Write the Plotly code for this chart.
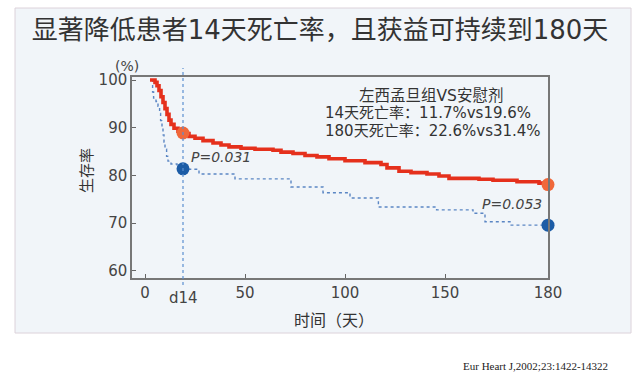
import plotly.graph_objects as go

# ---- data (x in the chart's own axis units; "180" label sits at the right edge) ----
red_days = [2.5, 5.0, 6.0, 7.0, 8.0, 9.0, 10.0, 11.0, 12.0, 13.0, 14.5, 16.5, 19, 22, 25, 29, 34, 38, 42,
            48, 55, 64, 68, 74, 80, 86, 92, 100, 110, 118, 121, 127, 133, 141, 147, 152, 167, 174, 186, 197, 201.5]
red_surv = [100, 99.5, 98.8, 97.8, 96.5, 95.3, 94.0, 92.8, 91.6, 90.7, 89.9, 89.3, 88.8, 88.2, 87.8, 87.3, 86.8,
            86.4, 86.0, 85.7, 85.5, 85.3, 84.9, 84.6, 84.2, 83.9, 83.5, 83.1, 82.7, 82.3, 81.6, 80.9, 80.6, 80.3,
            79.9, 79.4, 79.2, 79.0, 78.7, 78.4, 78.3]

blue_days = [3.3, 3.8, 4.3, 5.5, 6.5, 7.3, 7.8, 8.5, 9.0, 9.5, 10.0, 10.8, 11.5, 13, 16, 20, 27, 45, 73, 89,
             102.5, 116.7, 145.8, 164, 170, 182.5, 201.5]
blue_surv = [100, 97.5, 96.2, 95.5, 94.5, 93.0, 91.5, 90.2, 88.5, 87.0, 85.5, 84.0, 83.0, 82.4, 81.8, 81.3,
             80.3, 79.3, 77.6, 76.4, 75.3, 73.4, 72.8, 72.1, 70.3, 69.6, 69.6]

marker_days = [19, 201.5]
red_marker_surv = [88.9, 78.1]
blue_marker_surv = [81.4, 69.6]

d14_pos = 19
x_tick_vals = [0, 50, 100, 150, 201.5]
x_tick_text = ["0", "50", "100", "150", "180"]
y_tick_vals = [60, 70, 80, 90, 100]

title_text = "显著降低患者14天死亡率，且获益可持续到180天"
box_lines = ["左西孟旦组VS安慰剂", "14天死亡率：11.7%vs19.6%", "180天死亡率：22.6%vs31.4%"]

FONT = "DejaVu Sans, Noto Sans CJK SC, sans-serif"
CJK = "Noto Sans CJK SC, DejaVu Sans, sans-serif"

fig = go.Figure()
fig.add_trace(go.Scatter(x=blue_days, y=blue_surv, mode="lines", line=dict(shape="hv", color="#5b86c4", width=1.4, dash="dot"),
                         hoverinfo="skip", showlegend=False))
fig.add_trace(go.Scatter(x=red_days, y=red_surv, mode="lines", line=dict(shape="hv", color="#e5301c", width=3.6),
                         hoverinfo="skip", showlegend=False))
fig.add_trace(go.Scatter(x=marker_days, y=red_marker_surv, mode="markers", marker=dict(size=13, color="#f0683a"),
                         cliponaxis=False, showlegend=False))
fig.add_trace(go.Scatter(x=marker_days, y=blue_marker_surv, mode="markers", marker=dict(size=13, color="#1c5ca6"),
                         cliponaxis=False, showlegend=False))

shapes = [
    dict(type="rect", xref="paper", yref="paper", x0=(15 - 132) / 416, x1=(631 - 132) / 416,
         y0=(278 - 333) / 201, y1=(278 - 8) / 201, fillcolor="#f1f5f9", line=dict(color="#dcd2da", width=1),
         layer="below"),
    dict(type="line", xref="x", yref="paper", x0=d14_pos, x1=d14_pos, y0=-0.035, y1=1.045,
         line=dict(color="#5b8fd0", width=1.2, dash="dot")),
]

annotations = [
    dict(text="d14", x=d14_pos, xref="x", y=-0.1, yref="paper", showarrow=False,
         font=dict(family=FONT, size=15, color="#444"), yanchor="middle"),
    dict(text="(%)", x=(127 - 132) / 416, xref="paper", y=(278 - 66) / 201, yref="paper", showarrow=False,
         font=dict(family=FONT, size=14, color="#444"), xanchor="center", yanchor="middle"),
    dict(text="生存率", textangle=-90, x=(85 - 132) / 416, xref="paper", y=(278 - 171) / 201, yref="paper",
         showarrow=False, font=dict(family=CJK, size=15, color="#333"), xanchor="center", yanchor="middle"),
    dict(text="时间（天）", x=(334 - 132) / 416, xref="paper", y=(278 - 319) / 201, yref="paper", showarrow=False,
         font=dict(family=CJK, size=16, color="#333"), xanchor="center", yanchor="middle"),
    dict(text=box_lines[0], x=(431 - 132) / 416, xref="paper", y=(278 - 95) / 201, yref="paper", showarrow=False,
         font=dict(family=FONT, size=15.5, color="#333"), xanchor="center", yanchor="middle"),
    dict(text=box_lines[1], x=(323 - 132) / 416, xref="paper", y=(278 - 113) / 201, yref="paper", showarrow=False,
         font=dict(family=FONT, size=15, color="#333"), xanchor="left", yanchor="middle"),
    dict(text=box_lines[2], x=(323 - 132) / 416, xref="paper", y=(278 - 131) / 201, yref="paper", showarrow=False,
         font=dict(family=FONT, size=15, color="#333"), xanchor="left", yanchor="middle"),
    dict(text="<i>P=0.031</i>", x=(189 - 132) / 416, xref="paper", y=(278 - 157) / 201, yref="paper",
         showarrow=False, font=dict(family=FONT, size=14, color="#444"), xanchor="left", yanchor="middle"),
    dict(text="<i>P=0.053</i>", x=(544 - 132) / 416, xref="paper", y=(278 - 204) / 201, yref="paper",
         showarrow=False, font=dict(family=FONT, size=14, color="#444"), xanchor="right", yanchor="middle"),
    dict(text="Eur Heart J,2002;23:1422-14322", x=(610 - 132) / 416, xref="paper", y=(278 - 366) / 201,
         yref="paper", showarrow=False, font=dict(family="Liberation Serif, serif", size=11, color="#222"),
         xanchor="right", yanchor="middle"),
]

fig.update_layout(
    width=640, height=375,
    margin=dict(l=132, r=92, t=77, b=97),
    paper_bgcolor="white", plot_bgcolor="rgba(0,0,0,0)",
    title=dict(text=title_text, x=0.5, xref="container", xanchor="center", y=1 - 30 / 375, yanchor="middle",
               yref="container", font=dict(family=FONT, size=26, color="#333")),
    xaxis=dict(range=[-6.5, 201.5], tickvals=x_tick_vals, ticktext=x_tick_text, ticks="inside", ticklen=4,
               tickcolor="#666", showline=True, linecolor="#777", linewidth=1.5, mirror=True, showgrid=False,
               zeroline=False, tickfont=dict(family=FONT, size=15, color="#444")),
    yaxis=dict(range=[58.53, 100.63], tickvals=y_tick_vals, ticks="inside", ticklen=4, tickcolor="#666",
               showline=True, linecolor="#777", linewidth=1.5, mirror=True, showgrid=False, zeroline=False,
               tickfont=dict(family=FONT, size=15, color="#444")),
    shapes=shapes,
    annotations=annotations,
)

fig.write_html("out.html", config={"displayModeBar": False}, post_script="document.body.style.margin='0';")
